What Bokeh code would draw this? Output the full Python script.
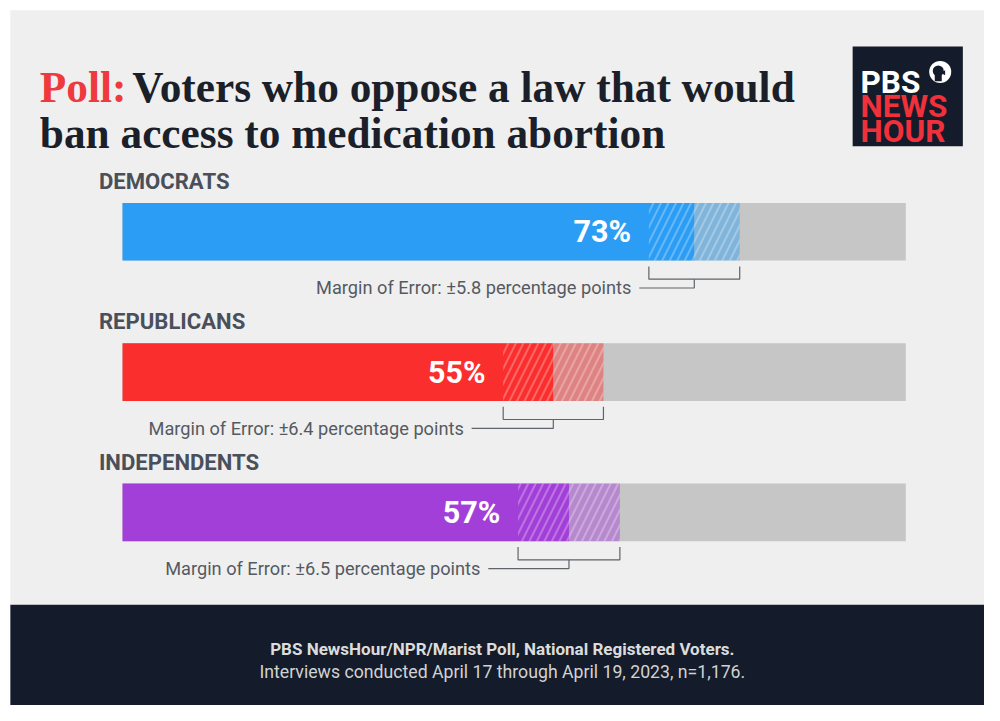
from bokeh.plotting import figure
from bokeh.models import Range1d
from bokeh.core.properties import value
from bokeh.embed import file_html
from bokeh.resources import INLINE

# ---- data ----
categories = ["DEMOCRATS", "REPUBLICANS", "INDEPENDENTS"]
support = [73, 55, 57]
moe = [5.8, 6.4, 6.5]
bar_colors = ["#2b9df5", "#fb2e2e", "#a23fd8"]
title_red = "Poll:"
title_line1 = "Voters who oppose a law that would"
title_line2 = "ban access to medication abortion"
source_line1 = "PBS NewsHour/NPR/Marist Poll, National Registered Voters."
source_line2 = "Interviews conducted April 17 through April 19, 2023, n=1,176."

# ---- layout ----
W, H = 984, 705
REF_W, REF_H = 1000, 721
SPAN = 100 * REF_W / 796.0          # percent units across the full width
X0 = -124 / REF_W * SPAN            # so that 0% sits at ref px 124, 100% at ref px 920
X1 = X0 + SPAN
S = W / REF_W                       # font scale


def P(px):
    """reference pixel x -> percent data units"""
    return X0 + px * SPAN / REF_W


def PW(dpx):
    return dpx * SPAN / REF_W


def fs(px):
    return f"{px * S:.1f}px"


p = figure(width=W, height=H, x_range=Range1d(X0, X1), y_range=Range1d(REF_H, 0),
           output_backend="svg", toolbar_location=None, min_border=0)
p.axis.visible = False
p.grid.visible = False
p.outline_line_color = None
p.background_fill_color = "white"
p.border_fill_color = "white"

# light background panel
p.quad(left=[P(10)], right=[X1], top=[10], bottom=[618], fill_color="#efefef", line_color=None)

row_y = [236.5 + i * 143.5 for i in range(len(categories))]
bar_h = 59

# gray track
p.hbar(y=row_y, left=0, right=100, height=bar_h, fill_color="#c6c6c6", line_color=None)
# light upper-margin part
p.hbar(y=row_y, left=support, right=[s + m for s, m in zip(support, moe)], height=bar_h,
       fill_color=bar_colors, fill_alpha=0.45, line_color=None)
# solid bar
p.hbar(y=row_y, left=0, right=support, height=bar_h, fill_color=bar_colors, line_color=None)
# hatch over margin of error
p.hbar(y=row_y, left=[s - m for s, m in zip(support, moe)],
       right=[s + m for s, m in zip(support, moe)], height=bar_h,
       fill_alpha=0, line_color=None, hatch_pattern="/", hatch_color="white",
       hatch_alpha=0.28, hatch_scale=15, hatch_weight=2)

# percent labels
p.text(x=[s - m - PW(18) for s, m in zip(support, moe)], y=row_y,
       text=[f"{s}%" for s in support], text_font=value("Roboto"), text_font_style="bold",
       text_font_size=fs(31), text_color="white", text_align="right", text_baseline="middle")

# category labels
p.text(x=[P(100)] * 3, y=[ry - 52 for ry in row_y], text=categories, text_font=value("Roboto"),
       text_font_style="bold", text_font_size=fs(22.5), text_color="#4a4f59",
       text_align="left", text_baseline="middle")

# margin of error brackets
line_left_px = [56, 83, 82]
col = "#5f646b"
for ry, s, m, off in zip(row_y, support, moe, line_left_px):
    bot = ry + bar_h / 2
    lo, hi = s - m, s + m
    p.line(x=[lo, lo, hi, hi], y=[bot + 6, bot + 19, bot + 19, bot + 6], line_color=col, line_width=1.2)
    p.line(x=[s, s, s - PW(off)], y=[bot + 19, bot + 28, bot + 28], line_color=col, line_width=1.2)
    p.text(x=[s - PW(off + 8)], y=[bot + 28], text=[f"Margin of Error: \u00b1{m} percentage points"],
           text_font=value("Roboto"), text_font_size=fs(18.5), text_color="#555a62",
           text_align="right", text_baseline="middle")

# title
p.text(x=[P(40)], y=[88], text=[title_red], text_font=value("Liberation Serif"), text_font_style="bold",
       text_font_size=fs(44), text_color="#ee3a3c", text_baseline="alphabetic")
p.text(x=[P(134)], y=[88], text=[title_line1], text_font=value("Liberation Serif"), text_font_style="bold",
       text_font_size=fs(44), text_color="#1b1f2a", text_baseline="alphabetic")
p.text(x=[P(40)], y=[135], text=[title_line2], text_font=value("Liberation Serif"), text_font_style="bold",
       text_font_size=fs(44), text_color="#1b1f2a", text_baseline="alphabetic")

# logo
p.quad(left=[P(866)], right=[P(978)], top=[47], bottom=[149], fill_color="#141b2a", line_color=None)
p.text(x=[P(874)], y=[84], text=["PBS"], text_font=value("Roboto"), text_font_style="bold",
       text_font_size=fs(32), text_color="white", text_baseline="alphabetic")
p.text(x=[P(874)] * 2, y=[108, 134], text=["NEWS", "HOUR"], text_font=value("Roboto"), text_font_style="bold",
       text_font_size=fs(32), text_color="#f0303a", text_baseline="alphabetic")
p.scatter(x=[P(955)], y=[73], size=22, marker="circle", fill_color="white", line_color=None)
# stylised face profile
p.scatter(x=[P(953)], y=[72], size=11, marker="circle", fill_color="#141b2a", line_color=None)
p.scatter(x=[P(953)], y=[79], size=7, marker="square", fill_color="#141b2a", line_color=None)
p.scatter(x=[P(958.5)], y=[74], size=5, marker="triangle", angle=1.57, fill_color="#141b2a", line_color=None)

# footer
p.quad(left=[P(10)], right=[X1], top=[618], bottom=[REF_H], fill_color="#141c2b", line_color=None)
p.text(x=[P(510)], y=[663], text=[source_line1], text_font=value("Roboto"), text_font_style="bold",
       text_font_size=fs(17.3), text_color="#dcdcdc", text_align="center", text_baseline="middle")
p.text(x=[P(510)], y=[687], text=[source_line2], text_font=value("Roboto"),
       text_font_size=fs(18), text_color="#d2d2d2", text_align="center", text_baseline="middle")

open("out.html", "w").write(file_html(p, INLINE))
